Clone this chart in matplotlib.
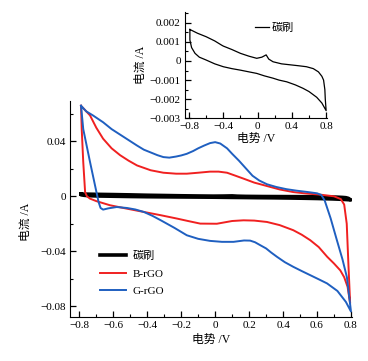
import numpy as np
import matplotlib.pyplot as plt
from matplotlib.ticker import MultipleLocator, FuncFormatter

plt.rcParams['font.family'] = ['Liberation Serif', 'Noto Sans CJK SC']
plt.rcParams['font.size'] = 8
plt.rcParams['axes.unicode_minus'] = True

# G-rGO (blue) closed loop
g_x = [-0.79, -0.76, -0.72, -0.69, -0.66, -0.61, -0.56, -0.51, -0.46, -0.42, -0.38, -0.34, -0.305, -0.27,
       -0.23, -0.2, -0.167, -0.13, -0.1, -0.065, -0.03, 0.0, 0.03, 0.07, 0.1, 0.14, 0.18, 0.22, 0.26,
       0.305, 0.36, 0.42, 0.48, 0.54, 0.60, 0.625, 0.645,
       0.68, 0.717, 0.75, 0.776, 0.8,
       0.77, 0.72, 0.659, 0.61, 0.56, 0.51, 0.46, 0.41, 0.364, 0.33, 0.30, 0.265, 0.235, 0.206, 0.17,
       0.108, 0.04, -0.03, -0.1, -0.167, -0.24, -0.32, -0.37, -0.42, -0.47, -0.52, -0.58, -0.63, -0.66,
       -0.675, -0.687, -0.737, -0.777, -0.79]
g_y = [0.066, 0.062, 0.059, 0.0565, 0.054, 0.049, 0.045, 0.041, 0.037, 0.034, 0.032, 0.030, 0.0286, 0.0282,
       0.029, 0.0298, 0.031, 0.033, 0.035, 0.037, 0.0388, 0.0395, 0.0385, 0.035, 0.031, 0.026, 0.0205, 0.015, 0.0115,
       0.0088, 0.0068, 0.0052, 0.0041, 0.0032, 0.0022, 0.001, -0.003,
       -0.016, -0.032, -0.046, -0.059, -0.084,
       -0.077, -0.069, -0.0635, -0.0605, -0.0575, -0.0545, -0.0514, -0.048, -0.0441, -0.041, -0.038, -0.0356, -0.0335, -0.0323, -0.0322,
       -0.0332, -0.0332, -0.0325, -0.031, -0.0284, -0.023, -0.0175, -0.0142, -0.0114, -0.0096, -0.0085, -0.0078, -0.0088, -0.0097,
       -0.0085, -0.004, 0.025, 0.049, 0.066]

# B-rGO (red) closed loop
b_x = [-0.79, -0.737, -0.70, -0.66, -0.61, -0.56, -0.51, -0.46, -0.38, -0.305, -0.23, -0.167, -0.1, -0.03,
       0.02, 0.07, 0.12, 0.167, 0.23, 0.305, 0.38, 0.46, 0.54, 0.62, 0.70, 0.74, 0.76, 0.775, 0.785, 0.795,
       0.78, 0.76, 0.737, 0.70, 0.66, 0.61, 0.56, 0.51, 0.46, 0.38, 0.305, 0.23, 0.167, 0.1, 0.01,
       -0.088, -0.16, -0.226, -0.32, -0.42, -0.52, -0.62, -0.70, -0.737, -0.755, -0.766, -0.777, -0.786, -0.79]
b_y = [0.066, 0.059, 0.050, 0.042, 0.035, 0.030, 0.026, 0.0225, 0.019, 0.0172, 0.0165, 0.0165, 0.0172, 0.018,
       0.018, 0.0172, 0.015, 0.0129, 0.010, 0.0075, 0.005, 0.0031, 0.002, 0.0012, 0.0, -0.002, -0.006, -0.02, -0.05, -0.078,
       -0.066, -0.059, -0.054, -0.049, -0.0441, -0.037, -0.032, -0.028, -0.0247, -0.021, -0.0187, -0.0177, -0.0175, -0.018, -0.020,
       -0.0199, -0.018, -0.0162, -0.0138, -0.0114, -0.009, -0.0065, -0.0035, -0.0017, 0.0, 0.003, 0.025, 0.049, 0.066]

# carbon brush (black) closed loop
c_x = [-0.79, -0.7, -0.6, -0.5, -0.42, -0.40, -0.3, -0.2, -0.1, -0.01, 0.05, 0.1, 0.13, 0.18, 0.28, 0.38,
       0.48, 0.57, 0.65, 0.71, 0.75, 0.77, 0.785, 0.79, 0.8,
       0.75, 0.69, 0.6, 0.53, 0.44, 0.34, 0.25, 0.18, 0.08, -0.01, -0.1, -0.2, -0.3, -0.4, -0.5,
       -0.6, -0.68, -0.73, -0.77, -0.79, -0.79]
c_y = [0.00165, 0.00145, 0.00127, 0.00105, 0.00083, 0.00078, 0.0006, 0.0004, 0.00025, 0.00014, 0.0002, 0.00032,
       0.0001, -0.00004, -0.00015, -0.0002, -0.00025, -0.0003, -0.0004, -0.00057, -0.0008, -0.001, -0.0015, -0.002, -0.0026,
       -0.0022, -0.0019, -0.0016, -0.00143, -0.00125, -0.00109, -0.001, -0.0009, -0.00078, -0.00065, -0.00057,
       -0.00048, -0.0004, -0.0003, -0.00015, 0.00005, 0.0002, 0.0004, 0.0007, 0.0011, 0.00165]

red = '#f02020'
blue = '#1f5fc0'


def fmt(v, pos):
    s = '%.4g' % v
    if s in ('-0', '0'):
        return '0'
    return s.replace('-', '\u2212')


def style(ax):
    ax.spines['top'].set_visible(False)
    ax.spines['right'].set_visible(False)
    ax.tick_params(which='both', direction='in', labelsize=8, pad=3)
    ax.tick_params(which='major', length=4, width=0.9)
    ax.tick_params(which='minor', length=2.5, width=0.8)
    ax.xaxis.set_major_formatter(FuncFormatter(fmt))
    ax.yaxis.set_major_formatter(FuncFormatter(fmt))


fig = plt.figure(figsize=(3.68, 3.61), dpi=100)
ax = fig.add_axes([70 / 368, 1 - 317 / 361, 282 / 368, 216 / 361])
ax.plot(c_x, c_y, color='black', lw=2.6, label='碳刷')
ax.plot(b_x, b_y, color=red, lw=1.4, label='B-rGO')
ax.plot(g_x, g_y, color=blue, lw=1.4, label='G-rGO')
ax.set_xlim(-0.855, 0.806)
ax.set_ylim(-0.088, 0.0695)
ax.xaxis.set_major_locator(MultipleLocator(0.2))
ax.xaxis.set_minor_locator(MultipleLocator(0.1))
ax.yaxis.set_major_locator(MultipleLocator(0.04))
ax.yaxis.set_minor_locator(MultipleLocator(0.02))
style(ax)
ax.set_xlabel('电势 /V', fontsize=8.5, labelpad=3)
ax.set_ylabel('电流 /A', fontsize=8.5)
ax.yaxis.set_label_coords(-0.135, 0.44)
ax.legend(loc='upper left', bbox_to_anchor=(100 / 368, 1 - 251 / 361), bbox_transform=fig.transFigure,
          frameon=False, fontsize=8, handlelength=2.3, handletextpad=0.6, labelspacing=0.7,
          borderpad=0, borderaxespad=0)

ins = fig.add_axes([185 / 368, 1 - 118.3 / 361, 142 / 368, 106.6 / 361])
ins.patch.set_alpha(0)
ins.plot(c_x, c_y, color='black', lw=0.9, label='碳刷')
ins.set_xlim(-0.847, 0.81)
ins.set_ylim(-0.003, 0.00258)
ins.xaxis.set_major_locator(MultipleLocator(0.4))
ins.xaxis.set_minor_locator(MultipleLocator(0.2))
ins.yaxis.set_major_locator(MultipleLocator(0.001))
ins.yaxis.set_minor_locator(MultipleLocator(0.0005))
style(ins)
ins.set_xlabel('电势 /V', fontsize=8.5, labelpad=1)
ins.set_ylabel('电流 /A', fontsize=8.5, labelpad=2)
ins.legend(loc='upper left', bbox_to_anchor=(255 / 368, 1 - 23 / 361), bbox_transform=fig.transFigure,
           frameon=False, fontsize=8, handlelength=1.3, handletextpad=0.2, borderpad=0, borderaxespad=0)

fig.savefig('out.png', dpi=100)
